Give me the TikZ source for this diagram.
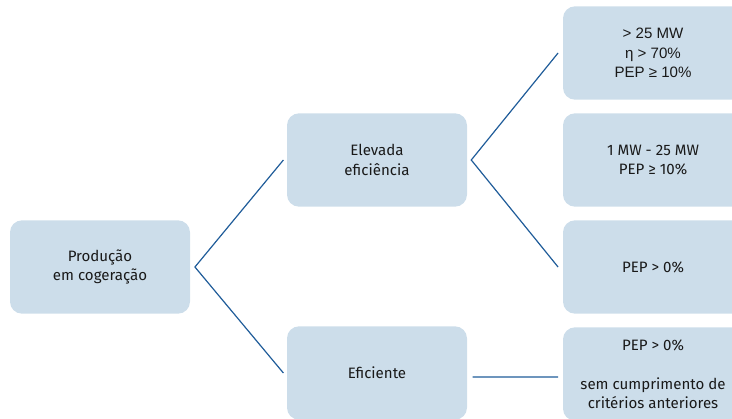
\documentclass[tikz,border=0pt]{standalone}
\usepackage{fontspec}
\setmainfont{Fira Sans}
\newfontfamily\arialf{Liberation Sans}
\definecolor{boxfill}{HTML}{CCDDEA}
\definecolor{linecol}{HTML}{1F5C99}
\begin{document}
\begin{tikzpicture}[x=0.75pt,y=-0.75pt,
  card/.style={fill=boxfill,draw=none,rounded corners=9pt,minimum width=135pt,minimum height=70pt,align=center,inner sep=0pt,font=\fontsize{11.3}{14.6}\selectfont,text=black!90},
  conn/.style={draw=linecol,line width=0.9pt}]
\useasboundingbox (0,0) rectangle (732,418);
\node[card] (prod) at (100,267) {Produção\\em cogeração};
\node[card] (elev) at (377,160) {Elevada\\eficiência};
\node[card] (efic) at (377,373) {Eficiente};
\node[card,font={\arialf\fontsize{11.3}{14.6}\selectfont}] (r1) at (653,53) {> 25 MW\\η > 70\%\\PEP ≥ 10\%};
\node[card] (r2) at (653,160) {1 MW - 25 MW\\PEP ≥ 10\%};
\node[card] (r3) at (653,267) {PEP > 0\%};
\node[card] (r4) at (653,374) {PEP > 0\%\\[14.6pt]sem cumprimento de\\critérios anteriores};
\coordinate (a) at ([xshift=3.5pt]prod.east);
\coordinate (b) at ([xshift=3pt]elev.east);
\draw[conn] ([xshift=-2.5pt]elev.west) -- (a) -- ([xshift=-2.5pt]efic.west);
\draw[conn] ([xshift=-3.5pt]r1.west) -- (b) -- ([xshift=-3.5pt]r3.west);
\draw[conn] ([xshift=4pt,yshift=-3pt]efic.east) -- ([xshift=-3.5pt,yshift=-2.3pt]r4.west);
\end{tikzpicture}
\end{document}
